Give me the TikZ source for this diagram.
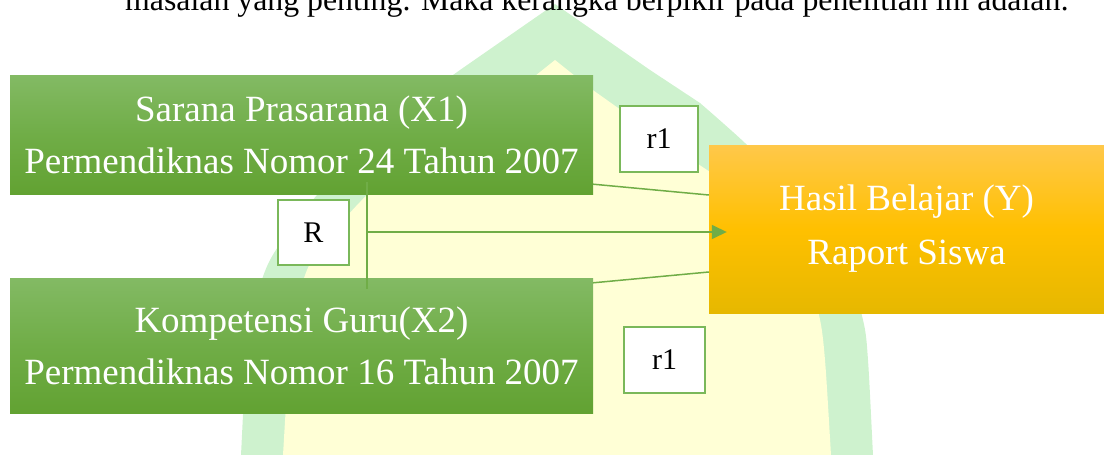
\documentclass[tikz,border=0pt]{standalone}
\usepackage{fontspec}
\setmainfont{Liberation Serif}
\usetikzlibrary{arrows.meta,calc}
\definecolor{gTop}{HTML}{83BA64}
\definecolor{gMid}{HTML}{70AD47}
\definecolor{gBot}{HTML}{62A232}
\definecolor{yTop}{HTML}{FFC84A}
\definecolor{yMid}{HTML}{FFC000}
\definecolor{yBot}{HTML}{E6B800}
\definecolor{lineG}{HTML}{70AD47}
\definecolor{boxG}{HTML}{7AB85A}
\definecolor{wmG}{HTML}{CEF2CE}
\definecolor{wmY}{HTML}{FFFFD6}
\begin{document}
\begin{tikzpicture}[x=1pt,y=-1pt,
  greenbox/.style={rectangle, inner sep=0pt, minimum width=583pt,
    top color=gTop, bottom color=gBot, middle color=gMid, text=white,
    align=center, font=\fontsize{37}{52}\selectfont},
  goldbox/.style={rectangle, inner sep=0pt, minimum width=395pt, minimum height=168pt,
    top color=yTop, bottom color=yBot, middle color=yMid, text=white,
    align=center, font=\fontsize{37}{54}\selectfont},
  labelbox/.style={rectangle, draw=boxG, line width=2pt, fill=white, inner sep=0pt,
    minimum height=66pt, font=\fontsize{30}{36}\selectfont},
  conn/.style={draw=lineG, line width=1.5pt}]
\useasboundingbox (0,0) rectangle (1104,455);
\clip (0,0) rectangle (1104,455);
% watermark
\fill[wmG] plot[smooth] coordinates {(240,470) (241,455) (246,360) (251,320) (270,260) (317,195) (369,143) (414,103)}
  -- (460,70) -- (555,4) -- (650,70)
  -- plot[smooth] coordinates {(700,103) (745,143) (797,195) (844,260) (863,320) (868,360) (873,455) (874,470)} -- cycle;
\fill[wmY] plot[smooth] coordinates {(282,470) (283,455) (289,360) (295,315) (312,260) (367,195) (407,170) (472,125)}
  -- (520,88) -- (555,60) -- (590,88)
  -- plot[smooth] coordinates {(642,125) (707,170) (747,195) (802,260) (819,315) (825,360) (831,455) (832,470)} -- cycle;
% page text
\node[anchor=base west, inner sep=0pt, font=\fontsize{31.8}{38}\selectfont] (toptext) at (125,10)
  {masalah yang penting. Maka kerangka berpikir pada penelitian ini adalah:};
% boxes
\node[greenbox, minimum height=119pt] (X1) at (301.5,134.5)
  {Sarana Prasarana (X1)\\Permendiknas Nomor 24 Tahun 2007};
\node[greenbox, minimum height=135pt] (X2) at (301.5,345.5)
  {Kompetensi Guru(X2)\\Permendiknas Nomor 16 Tahun 2007};
\node[goldbox] (Y) at (906.5,229) {Hasil Belajar (Y)\\Raport Siswa};
\node[labelbox, minimum width=71pt, minimum height=65pt] (R) at (313.5,232.5) {R};
\node[labelbox, minimum width=78pt] (r1a) at (659,139) {r1};
\node[labelbox, minimum width=81pt] (r1b) at (664.5,360) {r1};
% connectors
\coordinate (v1) at (367,182);
\coordinate (v2) at (367,289);
\coordinate (hub) at (367,232);
\draw[conn] ($(X1.south east)+(0,-10)$) -- ($(Y.west)+(0,-34)$);
\draw[conn] ($(X2.north east)+(0,5)$) -- ($(Y.west)+(0,43)$);
\draw[conn] (v1) -- (v2);
\draw[conn, -{Triangle[length=15pt,width=14pt]}] (hub) -- ($(Y.west)+(18,3)$);
\end{tikzpicture}
\end{document}
